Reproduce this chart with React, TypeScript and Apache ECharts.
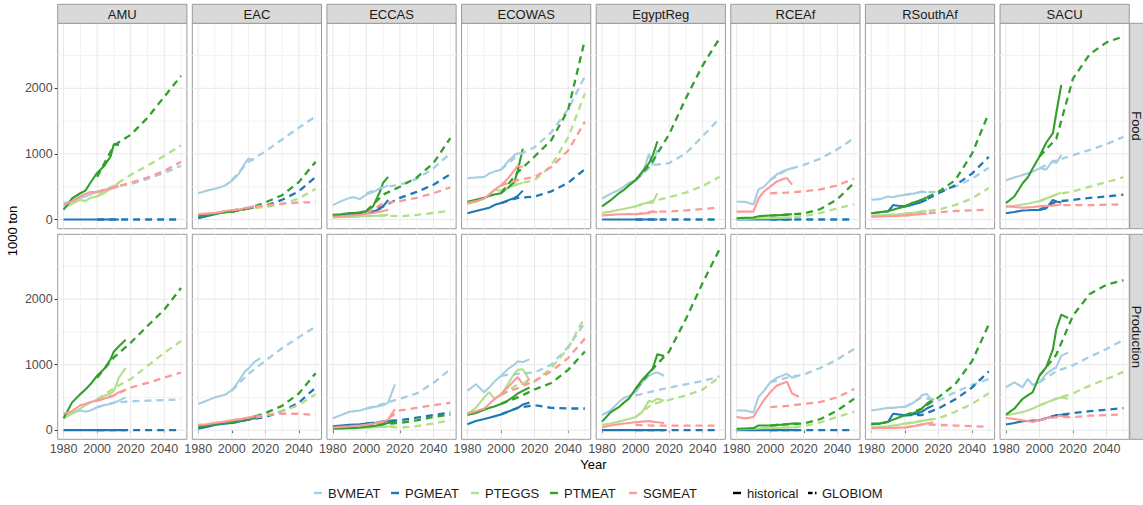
import React, { useEffect, useRef } from "react";
import * as echarts from "echarts";

// ---------- categories / ticks ----------
const REGIONS = ["AMU", "EAC", "ECCAS", "ECOWAS", "EgyptReg", "RCEAf", "RSouthAf", "SACU"];
const ROWS = ["Food", "Production"];
const PRODUCTS = ["BVMEAT", "PGMEAT", "PTEGGS", "PTMEAT", "SGMEAT"];
const COLORS = ["#A6CEE3", "#1F78B4", "#B2DF8A", "#33A02C", "#FB9A99"];
const SOURCES = ["historical", "GLOBIOM"];

const FOOD_YEARS = [1980, 1985, 1990, 1993, 1996, 2000, 2004, 2008, 2010, 2013];
const PROD_YEARS = [1980, 1985, 1990, 1993, 1996, 2000, 2004, 2008, 2010, 2013, 2017];
const GLOBIOM_YEARS = [2000, 2010, 2020, 2030, 2040, 2050];

const X_TICKS = [1980, 2000, 2020, 2040];
const X_MINOR = [1990, 2010, 2030, 2050];
const Y_TICKS = [0, 1000, 2000];
const Y_MINOR = [500, 1500, 2500];
const X_MIN = 1976.5;
const X_MAX = 2053.5;
const Y_MIN = -140;
const Y_MAX = 2990;

// ---------- data (1000 ton) ----------
const AMU_FOOD_HIST = {
  BVMEAT: [250, 270, 330, 350, 380, 420, 450, 480, 500, 560],
  PGMEAT: [0, 0, 0, 0, 0, 0, 0, 0, 0, 0],
  PTEGGS: [170, 240, 300, 280, 330, 350, 400, 470, 500, 560],
  PTMEAT: [150, 320, 400, 440, 560, 710, 810, 960, 1150, 1130],
  SGMEAT: [220, 280, 350, 390, 420, 420, 440, 470, 480, 510],
};
const AMU_FOOD_GLOB = {
  BVMEAT: [420, 500, 540, 620, 710, 820],
  PGMEAT: [0, 0, 0, 0, 0, 0],
  PTEGGS: [360, 520, 680, 820, 970, 1130],
  PTMEAT: [650, 1130, 1290, 1550, 1870, 2190],
  SGMEAT: [420, 490, 560, 640, 740, 880],
};
const AMU_PROD_HIST = {
  BVMEAT: [230, 260, 300, 280, 300, 350, 380, 400, 420, 450, 500],
  PGMEAT: [0, 0, 0, 0, 0, 0, 0, 0, 0, 0, 0],
  PTEGGS: [180, 250, 330, 380, 420, 470, 520, 560, 600, 800, 950],
  PTMEAT: [180, 420, 550, 620, 700, 830, 930, 1080, 1200, 1280, 1380],
  SGMEAT: [250, 290, 380, 400, 430, 450, 480, 510, 530, 580, 620],
};
const AMU_PROD_GLOB = {
  BVMEAT: [350, 420, 440, 450, 460, 470],
  PGMEAT: [0, 0, 0, 0, 0, 0],
  PTEGGS: [470, 640, 780, 980, 1180, 1360],
  PTMEAT: [800, 1110, 1335, 1590, 1840, 2170],
  SGMEAT: [450, 530, 650, 720, 800, 880],
};

const EAC_FOOD_HIST = {
  BVMEAT: [400, 440, 470, 490, 520, 590, 690, 860, 930, 900],
  PGMEAT: [20, 50, 80, 100, 110, 120, 140, 160, 170, 200],
  PTEGGS: [60, 80, 100, 110, 120, 130, 140, 160, 170, 190],
  PTMEAT: [50, 70, 90, 100, 110, 120, 140, 160, 170, 180],
  SGMEAT: [80, 90, 100, 110, 130, 140, 150, 170, 180, 200],
};
const EAC_FOOD_GLOB = {
  BVMEAT: [600, 880, 1040, 1220, 1400, 1570],
  PGMEAT: [120, 170, 210, 300, 430, 650],
  PTEGGS: [130, 170, 190, 240, 320, 470],
  PTMEAT: [120, 170, 260, 370, 570, 880],
  SGMEAT: [140, 180, 220, 240, 260, 260],
};
const EAC_PROD_HIST = {
  BVMEAT: [400, 450, 500, 520, 540, 610, 740, 900, 940, 1030, 1100],
  PGMEAT: [20, 50, 80, 90, 100, 110, 130, 150, 160, 180, 190],
  PTEGGS: [60, 80, 110, 120, 130, 140, 150, 170, 180, 200, 220],
  PTMEAT: [50, 70, 90, 100, 110, 120, 140, 160, 170, 190, 210],
  SGMEAT: [80, 90, 110, 120, 130, 150, 160, 180, 190, 210, 230],
};
const EAC_PROD_GLOB = {
  BVMEAT: [600, 860, 1060, 1250, 1420, 1580],
  PGMEAT: [110, 160, 200, 290, 420, 650],
  PTEGGS: [140, 180, 220, 290, 380, 550],
  PTMEAT: [120, 170, 260, 370, 560, 870],
  SGMEAT: [150, 190, 230, 250, 250, 230],
};

const ECCAS_FOOD_HIST = {
  BVMEAT: [220, 280, 330, 340, 310, 380, 420, 470, 490, 520],
  PGMEAT: [60, 70, 80, 85, 90, 100, 120, 160, 200, 300],
  PTEGGS: [30, 35, 40, 40, 45, 50, 55, 60, 65, 70],
  PTMEAT: [70, 80, 100, 100, 110, 130, 200, 420, 560, 650],
  SGMEAT: [40, 50, 60, 65, 70, 90, 100, 120, 130, 150],
};
const ECCAS_FOOD_GLOB = {
  BVMEAT: [400, 490, 530, 620, 780, 1010],
  PGMEAT: [100, 200, 330, 420, 530, 690],
  PTEGGS: [50, 60, 50, 70, 100, 135],
  PTMEAT: [130, 380, 500, 640, 860, 1240],
  SGMEAT: [90, 250, 280, 330, 400, 490],
};
const ECCAS_PROD_HIST = {
  BVMEAT: [180, 230, 280, 290, 300, 330, 350, 370, 380, 420, 700],
  PGMEAT: [60, 70, 80, 85, 90, 100, 110, 120, 130, 140, 150],
  PTEGGS: [20, 25, 30, 30, 35, 40, 45, 50, 50, 55, 60],
  PTMEAT: [20, 25, 30, 35, 40, 50, 60, 80, 90, 110, 130],
  SGMEAT: [40, 50, 60, 65, 70, 80, 100, 120, 130, 160, 320],
};
const ECCAS_PROD_GLOB = {
  BVMEAT: [330, 400, 480, 560, 720, 930],
  PGMEAT: [100, 130, 150, 190, 230, 270],
  PTEGGS: [40, 50, 40, 60, 100, 150],
  PTMEAT: [50, 90, 110, 150, 200, 240],
  SGMEAT: [80, 130, 300, 340, 380, 420],
};

const ECOWAS_FOOD_HIST = {
  BVMEAT: [630, 640, 650, 700, 730, 760, 880, 980, 1010, 1000],
  PGMEAT: [95, 130, 160, 180, 220, 250, 290, 330, 360, 440],
  PTEGGS: [240, 270, 320, 380, 450, 440, 480, 520, 540, 560],
  PTMEAT: [270, 300, 330, 360, 380, 400, 480, 570, 750, 1080],
  SGMEAT: [250, 280, 320, 380, 450, 520, 620, 750, 820, 800],
};
const ECOWAS_FOOD_GLOB = {
  BVMEAT: [760, 980, 1100, 1330, 1680, 2180],
  PGMEAT: [250, 330, 350, 430, 560, 766],
  PTEGGS: [440, 540, 600, 820, 1250, 1920],
  PTMEAT: [400, 720, 960, 1210, 1670, 2740],
  SGMEAT: [520, 600, 650, 800, 1050, 1490],
};
const ECOWAS_PROD_HIST = {
  BVMEAT: [600, 700, 580, 650, 740, 830, 930, 1000, 1050, 1040, 1080],
  PGMEAT: [90, 140, 170, 190, 210, 240, 280, 320, 340, 390, 420],
  PTEGGS: [250, 340, 500, 580, 480, 530, 700, 860, 920, 930, 760],
  PTMEAT: [230, 260, 310, 340, 360, 400, 450, 520, 560, 600, 650],
  SGMEAT: [250, 290, 330, 400, 470, 550, 650, 760, 810, 700, 780],
};
const ECOWAS_PROD_GLOB = {
  BVMEAT: [830, 860, 880, 1000, 1270, 1640],
  PGMEAT: [240, 340, 380, 340, 330, 330],
  PTEGGS: [530, 700, 740, 950, 1250, 1730],
  PTMEAT: [400, 500, 620, 720, 920, 1200],
  SGMEAT: [550, 640, 750, 900, 1100, 1400],
};

const EGYPT_FOOD_HIST = {
  BVMEAT: [320, 390, 450, 500, 560, 600, 690, 1000, 830, 1060],
  PGMEAT: [0, 0, 0, 0, 0, 0, 0, 0, 0, 0],
  PTEGGS: [100, 120, 150, 160, 180, 200, 240, 260, 250, 400],
  PTMEAT: [200, 290, 400, 450, 520, 600, 730, 860, 960, 1190],
  SGMEAT: [60, 70, 80, 80, 85, 80, 90, 100, 120, 110],
};
const EGYPT_FOOD_GLOB = {
  BVMEAT: [600, 830, 860, 1010, 1270, 1540],
  PGMEAT: [0, 0, 0, 0, 0, 0],
  PTEGGS: [200, 280, 340, 410, 510, 650],
  PTMEAT: [600, 880, 1300, 1850, 2350, 2760],
  SGMEAT: [80, 120, 120, 140, 160, 185],
};
const EGYPT_PROD_HIST = {
  BVMEAT: [230, 300, 430, 490, 520, 580, 730, 830, 860, 880, 830],
  PGMEAT: [0, 0, 0, 0, 0, 0, 0, 0, 0, 0, 0],
  PTEGGS: [80, 100, 130, 150, 170, 200, 280, 450, 430, 480, 450],
  PTMEAT: [130, 270, 350, 420, 480, 630, 770, 880, 930, 1160, 1130],
  SGMEAT: [40, 70, 90, 100, 110, 120, 130, 140, 130, 120, 110],
};
const EGYPT_PROD_GLOB = {
  BVMEAT: [530, 590, 650, 700, 750, 820],
  PGMEAT: [0, 0, 0, 0, 0, 0],
  PTEGGS: [200, 400, 460, 530, 620, 810],
  PTMEAT: [630, 930, 1200, 1700, 2250, 2760],
  SGMEAT: [80, 70, 70, 70, 70, 70],
};

const RCEAF_FOOD_HIST = {
  BVMEAT: [270, 270, 230, 460, 490, 600, 690, 740, 760, 780],
  PGMEAT: [0, 0, 0, 0, 0, 0, 0, 0, 0, 0],
  PTEGGS: [10, 10, 15, 20, 20, 20, 25, 30, 30, 30],
  PTMEAT: [20, 25, 30, 50, 55, 60, 65, 70, 75, 80],
  SGMEAT: [120, 120, 120, 320, 420, 500, 580, 620, 630, 530],
};
const RCEAF_FOOD_GLOB = {
  BVMEAT: [600, 760, 830, 930, 1070, 1240],
  PGMEAT: [0, 0, 0, 0, 0, 0],
  PTEGGS: [20, 30, 50, 100, 170, 230],
  PTMEAT: [60, 75, 90, 160, 310, 560],
  SGMEAT: [400, 410, 430, 460, 520, 625],
};
const RCEAF_PROD_HIST = {
  BVMEAT: [300, 300, 270, 510, 590, 730, 800, 840, 860, 800, 830],
  PGMEAT: [0, 0, 0, 0, 0, 0, 0, 0, 0, 0, 0],
  PTEGGS: [10, 15, 20, 25, 30, 30, 35, 40, 40, 40, 45],
  PTMEAT: [20, 25, 30, 70, 70, 70, 80, 85, 90, 100, 100],
  SGMEAT: [200, 180, 200, 330, 450, 580, 680, 720, 740, 560, 510],
};
const RCEAF_PROD_GLOB = {
  BVMEAT: [730, 800, 850, 950, 1080, 1240],
  PGMEAT: [0, 0, 0, 0, 0, 0],
  PTEGGS: [30, 40, 60, 120, 200, 280],
  PTMEAT: [70, 90, 100, 170, 300, 480],
  SGMEAT: [350, 370, 400, 430, 500, 630],
};

const RSOUTHAF_FOOD_HIST = {
  BVMEAT: [300, 310, 350, 340, 360, 375, 390, 410, 426, 416],
  PGMEAT: [96, 110, 122, 220, 210, 200, 220, 250, 270, 300],
  PTEGGS: [60, 65, 70, 75, 80, 90, 100, 110, 120, 130],
  PTMEAT: [96, 110, 130, 150, 170, 200, 250, 280, 300, 340],
  SGMEAT: [40, 45, 50, 50, 55, 60, 70, 80, 85, 90],
};
const RSOUTHAF_FOOD_GLOB = {
  BVMEAT: [375, 420, 420, 500, 620, 790],
  PGMEAT: [200, 270, 400, 520, 700, 955],
  PTEGGS: [90, 120, 150, 220, 320, 480],
  PTMEAT: [200, 300, 420, 600, 1000, 1620],
  SGMEAT: [60, 85, 110, 130, 140, 150],
};
const RSOUTHAF_PROD_HIST = {
  BVMEAT: [300, 320, 340, 340, 350, 355, 400, 470, 530, 554, 430],
  PGMEAT: [86, 100, 126, 250, 240, 227, 237, 260, 277, 330, 378],
  PTEGGS: [40, 50, 60, 70, 80, 100, 110, 130, 140, 155, 170],
  PTMEAT: [100, 100, 126, 160, 190, 227, 252, 290, 327, 400, 479],
  SGMEAT: [30, 32, 35, 35, 38, 40, 55, 75, 85, 100, 116],
};
const RSOUTHAF_PROD_GLOB = {
  BVMEAT: [355, 500, 450, 580, 690, 780],
  PGMEAT: [227, 230, 330, 470, 650, 897],
  PTEGGS: [100, 140, 180, 280, 400, 564],
  PTMEAT: [227, 327, 500, 700, 1050, 1612],
  SGMEAT: [40, 85, 80, 70, 60, 50],
};

const SACU_FOOD_HIST = {
  BVMEAT: [600, 640, 680, 700, 730, 780, 760, 900, 860, 985],
  PGMEAT: [96, 115, 137, 140, 145, 147, 170, 300, 274, 260],
  PTEGGS: [200, 210, 230, 240, 260, 280, 320, 360, 380, 410],
  PTMEAT: [249, 350, 553, 640, 780, 960, 1170, 1315, 1620, 2050],
  SGMEAT: [200, 190, 180, 185, 190, 200, 205, 215, 220, 230],
};
const SACU_FOOD_GLOB = {
  BVMEAT: [780, 900, 980, 1060, 1150, 1260],
  PGMEAT: [147, 274, 300, 330, 350, 380],
  PTEGGS: [280, 380, 430, 500, 570, 645],
  PTMEAT: [960, 1230, 2150, 2520, 2700, 2790],
  SGMEAT: [200, 220, 220, 220, 225, 230],
};
const SACU_PROD_HIST = {
  BVMEAT: [655, 730, 655, 780, 690, 730, 860, 930, 957, 1134, 1184],
  PGMEAT: [86, 110, 136, 140, 145, 151, 180, 210, 227, 235, 237],
  PTEGGS: [227, 250, 277, 300, 330, 378, 420, 460, 479, 500, 479],
  PTMEAT: [237, 327, 479, 530, 580, 831, 960, 1234, 1537, 1763, 1713],
  SGMEAT: [186, 170, 151, 140, 126, 151, 180, 210, 227, 215, 201],
};
const SACU_PROD_GLOB = {
  BVMEAT: [730, 900, 990, 1120, 1240, 1375],
  PGMEAT: [151, 227, 260, 290, 310, 337],
  PTEGGS: [378, 479, 560, 680, 780, 890],
  PTMEAT: [831, 1150, 1750, 2080, 2220, 2290],
  SGMEAT: [151, 200, 200, 220, 230, 240],
};

const HIST: Record<string, Record<string, Record<string, number[]>>> = {
  Food: {
    AMU: AMU_FOOD_HIST, EAC: EAC_FOOD_HIST, ECCAS: ECCAS_FOOD_HIST, ECOWAS: ECOWAS_FOOD_HIST,
    EgyptReg: EGYPT_FOOD_HIST, RCEAf: RCEAF_FOOD_HIST, RSouthAf: RSOUTHAF_FOOD_HIST, SACU: SACU_FOOD_HIST,
  },
  Production: {
    AMU: AMU_PROD_HIST, EAC: EAC_PROD_HIST, ECCAS: ECCAS_PROD_HIST, ECOWAS: ECOWAS_PROD_HIST,
    EgyptReg: EGYPT_PROD_HIST, RCEAf: RCEAF_PROD_HIST, RSouthAf: RSOUTHAF_PROD_HIST, SACU: SACU_PROD_HIST,
  },
};
const GLOB: Record<string, Record<string, Record<string, number[]>>> = {
  Food: {
    AMU: AMU_FOOD_GLOB, EAC: EAC_FOOD_GLOB, ECCAS: ECCAS_FOOD_GLOB, ECOWAS: ECOWAS_FOOD_GLOB,
    EgyptReg: EGYPT_FOOD_GLOB, RCEAf: RCEAF_FOOD_GLOB, RSouthAf: RSOUTHAF_FOOD_GLOB, SACU: SACU_FOOD_GLOB,
  },
  Production: {
    AMU: AMU_PROD_GLOB, EAC: EAC_PROD_GLOB, ECCAS: ECCAS_PROD_GLOB, ECOWAS: ECOWAS_PROD_GLOB,
    EgyptReg: EGYPT_PROD_GLOB, RCEAf: RCEAF_PROD_GLOB, RSouthAf: RSOUTHAF_PROD_GLOB, SACU: SACU_PROD_GLOB,
  },
};

// ---------- layout ----------
const FONT = '"Liberation Sans", Arial, Helvetica, sans-serif';
const PANEL_LEFT0 = 57.7;
const PANEL_PITCH = 134.62;
const PANEL_W = 129.2;
const ROW_TOP = [23.3, 234.3];
const ROW_H = [205.4, 205.0];
const STRIP_TOP = 4.3;
const STRIP_H = 19;
const BORDER = "#9A9A9A";
const DASH = [7, 5];

function buildOption() {
  const grid: any[] = [];
  const xAxis: any[] = [];
  const yAxis: any[] = [];
  const series: any[] = [];
  const elements: any[] = [];

  ROWS.forEach((row, r) => {
    REGIONS.forEach((reg, c) => {
      const idx = r * REGIONS.length + c;
      const left = PANEL_LEFT0 + c * PANEL_PITCH;
      grid.push({
        left, top: ROW_TOP[r], width: PANEL_W, height: ROW_H[r],
        show: true, borderColor: BORDER, borderWidth: 1, backgroundColor: "#ffffff",
        containLabel: false, outerBoundsMode: "none",
      });
      xAxis.push({
        type: "value", gridIndex: idx, min: X_MIN, max: X_MAX,
        axisLine: { show: false }, splitLine: { show: false },
        axisTick: { show: r === 1, length: 3, lineStyle: { color: "#333333" }, customValues: X_TICKS },
        axisLabel: {
          show: r === 1, customValues: X_TICKS, margin: 3, color: "#4D4D4D", fontSize: 12.5, fontFamily: FONT,
          formatter: (v: number) => (X_TICKS.indexOf(v) >= 0 ? String(v) : ""),
        },
      });
      yAxis.push({
        type: "value", gridIndex: idx, min: Y_MIN, max: Y_MAX,
        axisLine: { show: false }, splitLine: { show: false },
        axisTick: { show: c === 0, length: 3, lineStyle: { color: "#333333" }, customValues: Y_TICKS },
        axisLabel: {
          show: c === 0, customValues: Y_TICKS, margin: 5, color: "#4D4D4D", fontSize: 12.5, fontFamily: FONT,
          formatter: (v: number) => (Y_TICKS.indexOf(v) >= 0 ? String(v) : ""),
        },
      });

      // grid lines (through the axes' scales)
      const gl = (data: number[][], major: boolean) => ({
        type: "line", xAxisIndex: idx, yAxisIndex: idx, data, symbol: "none", silent: true, z: 1,
        lineStyle: { color: major ? "#E8E8E8" : "#F3F3F3", width: major ? 1 : 1 },
        tooltip: { show: false },
      });
      Y_MINOR.forEach((v) => series.push(gl([[X_MIN, v], [X_MAX, v]], false)));
      X_MINOR.forEach((v) => series.push(gl([[v, Y_MIN], [v, Y_MAX]], false)));
      Y_TICKS.forEach((v) => series.push(gl([[X_MIN, v], [X_MAX, v]], true)));
      X_TICKS.forEach((v) => series.push(gl([[v, Y_MIN], [v, Y_MAX]], true)));

      const years = r === 0 ? FOOD_YEARS : PROD_YEARS;
      PRODUCTS.forEach((p, k) => {
        const h = HIST[row][reg][p];
        series.push({
          type: "line", name: p, xAxisIndex: idx, yAxisIndex: idx, symbol: "none", silent: true, z: 3,
          data: years.map((y, i) => [y, h[i]]),
          lineStyle: { color: COLORS[k], width: 2.1 }, itemStyle: { color: COLORS[k] },
        });
      });
      PRODUCTS.forEach((p, k) => {
        const g = GLOB[row][reg][p];
        series.push({
          type: "line", name: p, xAxisIndex: idx, yAxisIndex: idx, symbol: "none", silent: true, z: 4,
          data: GLOBIOM_YEARS.map((y, i) => [y, g[i]]),
          lineStyle: { color: COLORS[k], width: 2.3, type: DASH }, itemStyle: { color: COLORS[k] },
        });
      });

      // top strips
      if (r === 0) {
        elements.push({
          type: "rect", z: 10,
          shape: { x: left, y: STRIP_TOP, width: PANEL_W, height: STRIP_H },
          style: { fill: "#D9D9D9", stroke: BORDER, lineWidth: 1 },
        });
        elements.push({
          type: "text", z: 11, x: left + PANEL_W / 2, y: STRIP_TOP + STRIP_H / 2 + 0.5,
          style: {
            text: reg, fill: "#1A1A1A", font: `13px ${FONT}`,
            align: "center", verticalAlign: "middle", textAlign: "center", textVerticalAlign: "middle",
          },
        });
      }
    });

    // right strips
    const stripX = PANEL_LEFT0 + 7 * PANEL_PITCH + PANEL_W + 0.5;
    elements.push({
      type: "rect", z: 10,
      shape: { x: stripX, y: ROW_TOP[r], width: 20, height: ROW_H[r] },
      style: { fill: "#D9D9D9", stroke: BORDER, lineWidth: 1 },
    });
    elements.push({
      type: "text", z: 11, x: stripX + 7, y: ROW_TOP[r] + ROW_H[r] / 2, rotation: -Math.PI / 2,
      style: {
        text: row, fill: "#1A1A1A", font: `13px ${FONT}`,
        align: "center", verticalAlign: "middle", textAlign: "center", textVerticalAlign: "middle",
      },
    });
  });

  // axis titles
  elements.push({
    type: "text", x: 12, y: 231, rotation: Math.PI / 2,
    style: {
      text: "1000 ton", fill: "#000000", font: `13px ${FONT}`,
      align: "center", verticalAlign: "middle", textAlign: "center", textVerticalAlign: "middle",
    },
  });
  elements.push({
    type: "text", x: 593.5, y: 464,
    style: {
      text: "Year", fill: "#000000", font: `13px ${FONT}`,
      align: "center", verticalAlign: "middle", textAlign: "center", textVerticalAlign: "middle",
    },
  });

  // legend
  const LEG_Y = 493;
  const legendTextX = [328, 405, 485, 564, 643, 747, 822];
  const legendLabels = [...PRODUCTS, ...SOURCES];
  legendLabels.forEach((lab, i) => {
    const tx = legendTextX[i];
    const ix = tx - 14;
    if (i < PRODUCTS.length) {
      elements.push({ type: "line", shape: { x1: ix, y1: LEG_Y, x2: ix + 8, y2: LEG_Y }, style: { stroke: COLORS[i], lineWidth: 2.4 } });
    } else if (lab === "historical") {
      elements.push({ type: "line", shape: { x1: ix, y1: LEG_Y, x2: ix + 8, y2: LEG_Y }, style: { stroke: "#000000", lineWidth: 2.4 } });
    } else {
      elements.push({ type: "line", shape: { x1: ix, y1: LEG_Y, x2: ix + 4.5, y2: LEG_Y }, style: { stroke: "#000000", lineWidth: 2.4 } });
      elements.push({ type: "line", shape: { x1: ix + 7, y1: LEG_Y, x2: ix + 8.5, y2: LEG_Y }, style: { stroke: "#000000", lineWidth: 2.4 } });
    }
    elements.push({
      type: "text", x: tx, y: LEG_Y,
      style: {
        text: lab, fill: "#1A1A1A", font: `13px ${FONT}`,
        align: "left", verticalAlign: "middle", textAlign: "left", textVerticalAlign: "middle",
      },
    });
  });

  return {
    animation: false,
    backgroundColor: "#ffffff",
    grid, xAxis, yAxis, series,
    graphic: { elements },
  };
}

export default function App() {
  const ref = useRef<HTMLDivElement>(null);
  useEffect(() => {
    if (!ref.current) return;
    const chart = echarts.init(ref.current, null, { renderer: "svg", width: 1143, height: 505 });
    chart.setOption(buildOption() as any);
    return () => chart.dispose();
  }, []);
  return (
    <div
      ref={ref}
      style={{ position: "absolute", left: 0, top: 0, width: 1143, height: 505, background: "#ffffff" }}
    />
  );
}
